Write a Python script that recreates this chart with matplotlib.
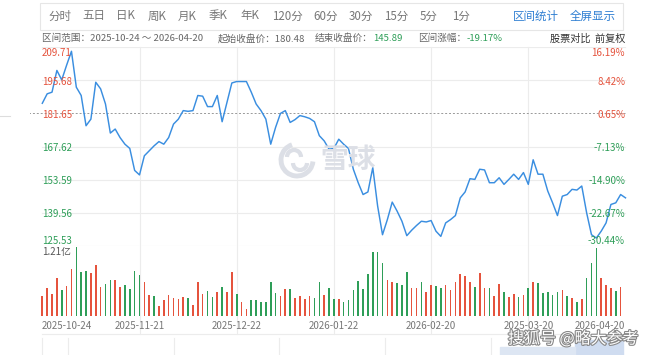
import matplotlib
matplotlib.use("Agg")
import matplotlib.pyplot as plt
import matplotlib.patheffects as pe
from matplotlib.patches import Rectangle, Arc

plt.rcParams['font.family'] = ['Noto Sans CJK SC', 'DejaVu Sans']

# ---------------- data ----------------
prices = [185.9, 189.9, 190.6, 199.8, 195.8, 202.0, 207.9, 192.7, 189.2, 176.4,
          179.2, 194.8, 192.0, 185.6, 173.3, 175.0, 171.4, 168.6, 166.8, 157.5,
          155.6, 163.7, 165.8, 167.9, 169.7, 168.6, 171.4, 177.1, 179.2, 182.8,
          182.5, 182.8, 189.2, 188.9, 184.5, 184.5, 189.2, 178.1, 186.3, 194.5,
          195.1, 195.1, 195.1, 190.6, 185.6, 182.8, 179.2, 168.6, 175.7, 181.6,
          182.8, 177.8, 179.0, 180.7, 180.2, 179.5, 178.1, 172.2, 170.0, 166.5,
          166.8, 170.7, 168.6, 166.8, 158.0, 152.3, 147.3, 148.4, 158.7, 142.4,
          130.3, 136.7, 144.1, 140.3, 136.0, 129.9, 132.2, 134.2, 136.0, 135.7,
          136.3, 131.8, 129.6, 135.3, 136.7, 138.4, 145.9, 148.4, 154.0, 153.7,
          158.0, 157.7, 152.3, 152.3, 154.4, 151.6, 153.7, 155.9, 153.7, 156.6,
          151.6, 162.0, 155.9, 155.9, 148.8, 143.8, 138.4, 146.6, 147.3, 149.5,
          149.2, 150.9, 139.6, 130.3, 128.9, 131.8, 135.3, 143.1, 143.8, 147.3,
          145.9]

volumes = [0.35, 0.48, 0.38, 0.67, 0.45, 0.53, 0.81, 1.21, 0.77, 0.79,
           0.75, 0.88, 0.51, 0.56, 0.63, 0.63, 0.51, 0.54, 0.47, 0.79,
           0.72, 0.59, 0.37, 0.35, 0.17, 0.28, 0.37, 0.32, 0.30, 0.33,
           0.32, 0.19, 0.60, 0.38, 0.44, 0.33, 0.42, 0.51, 0.41, 0.77,
           0.38, 0.25, 0.12, 0.27, 0.28, 0.24, 0.24, 0.60, 0.40, 0.35,
           0.47, 0.47, 0.31, 0.35, 0.29, 0.35, 0.31, 0.60, 0.37, 0.48,
           0.29, 0.30, 0.24, 0.27, 0.45, 0.61, 0.47, 0.73, 1.12, 1.12,
           0.93, 0.63, 0.59, 0.57, 0.54, 0.76, 0.49, 0.49, 0.60, 0.42,
           0.54, 0.52, 0.48, 0.54, 0.45, 0.60, 0.73, 0.69, 0.60, 0.51,
           0.74, 0.48, 0.48, 0.35, 0.56, 0.42, 0.33, 0.38, 0.33, 0.37,
           0.49, 0.59, 0.57, 0.40, 0.42, 0.37, 0.42, 0.45, 0.35, 0.32,
           0.25, 0.29, 0.66, 0.92, 1.18, 0.67, 0.54, 0.48, 0.44, 0.51]

bar_dirs = ("rrrrgrrggg" "rrrggrrggg" "grrgrrrrrr" "grrrggrgrr" "grrggggggr"
            "rgrrrrggrg" "grgggggggg" "grrgggrrgr" "rggrrrrrrg" "rrgrrgrrgr"
            "grgggggrgr" "grgggrrrgr")

price_ticks = [209.71, 195.68, 181.65, 167.62, 153.59, 139.56, 125.53]
pct_ticks = ["16.19%", "8.42%", "0.65%", "-7.13%", "-14.90%", "-22.67%", "-30.44%"]
date_idx = [0, 20, 40, 60, 80, 100, 120]
date_labels = ["2025-10-24", "2025-11-21", "2025-12-22", "2026-01-22",
               "2026-02-20", "2025-03-20", "2026-04-20"]
tabs = ["分时", "五日", "日K", "周K", "月K", "季K", "年K", "120分", "60分",
        "30分", "15分", "5分", "1分"]
tab_x = [48, 82, 116, 148, 178, 209, 240, 272, 313, 349, 384, 420, 452]
base_price = 181.65
vol_max = 1.21

RED = "#e5533d"
GREEN = "#2e9e58"
BLUE = "#3a8ee0"
GRID = "#ececec"
GRAY = "#666666"

W, H = 660, 355
fig = plt.figure(figsize=(6.6, 3.55), dpi=100)
fig.patch.set_facecolor("white")

def fx(p):
    return p / W

def fy(p):
    return 1 - p / H

n = len(prices)
X0, X1 = 42.3, 625.5  # pixel of first / last point
step = (X1 - X0) / (n - 1)
AX_L, AX_R = 30, 640
xl = ((AX_L - X0) / step, (AX_R - X0) / step)

# price axes
TOP, BOT = 47, 246
ax = fig.add_axes([fx(AX_L), fy(BOT), (AX_R - AX_L) / W, (BOT - TOP) / H])
ax.set_xlim(*xl)
ax.set_ylim(price_ticks[-1], price_ticks[0])
ax.axis("off")
xs = list(range(n))
x_left_i = (42 - X0) / step
x_right_i = (625 - X0) / step
for t in price_ticks:
    if abs(t - base_price) < 0.01:
        ax.plot([x_left_i - 6, x_right_i], [t, t], color="#999999", lw=0.7,
                ls=(0, (2, 2)), zorder=1)
    else:
        ax.plot([x_left_i, x_right_i], [t, t], color=GRID, lw=0.8, zorder=0)
ax.plot(xs, prices, color=BLUE, lw=1.05, zorder=3, solid_joinstyle="round")

# volume axes
VTOP, VBOT = 246.5, 316
vax = fig.add_axes([fx(AX_L), fy(VBOT), (AX_R - AX_L) / W, (VBOT - VTOP) / H])
vax.set_xlim(*xl)
vax.set_ylim(0, vol_max)
vax.axis("off")
cols = [RED if c == "r" else GREEN for c in bar_dirs]
vax.bar(range(len(volumes)), volumes, width=0.33, color=cols, zorder=2)

# vertical grid lines (figure level)
for i in date_idx[1:-1]:
    px = X0 + i * step
    fig.add_artist(plt.Line2D([fx(px), fx(px)], [fy(47), fy(334)], color=GRID,
                              lw=0.8, zorder=0))
fig.add_artist(plt.Line2D([fx(42), fx(625)], [fy(334), fy(334)], color=GRID, lw=0.8))
fig.add_artist(plt.Line2D([fx(0), fx(10)], [fy(116), fy(116)], color="#dddddd", lw=0.8))

# price labels (left) and pct labels (right)
for k, (t, p) in enumerate(zip(price_ticks, pct_ticks)):
    py = TOP + (price_ticks[0] - t) / (price_ticks[0] - price_ticks[-1]) * (BOT - TOP)
    col = RED if t >= base_price - 0.01 else GREEN
    va = "center"
    if k == 0:
        va = "top"
        py += 1
    elif k == len(price_ticks) - 1:
        va = "bottom"
    else:
        py += 1.5
    fig.text(fx(42), fy(py), f"{t:.2f}", color=col, fontsize=7, ha="left", va=va)
    fig.text(fx(625), fy(py), p, color=col, fontsize=7, ha="right", va=va)

fig.text(fx(42), fy(252), f"{vol_max:.2f}亿", color="#555555", fontsize=7,
         ha="left", va="center")

# date labels
for i, lab in zip(date_idx, date_labels):
    px = X0 + i * step
    ha = "center"
    if i == 0:
        ha = "left"
        px = 42
    elif i == date_idx[-1]:
        ha = "right"
        px = 625
    fig.text(fx(px), fy(326), lab, color="#777777", fontsize=7, ha=ha, va="center")

# toolbar
fig.add_artist(Rectangle((fx(40), fy(30)), (623 - 40) / W, 27 / H, fill=False,
                         ec="#e6e6e6", lw=0.8, transform=fig.transFigure))
for t, x in zip(tabs, tab_x):
    fig.text(fx(x), fy(16), t, color="#777777", fontsize=8.3, ha="left", va="center")
fig.text(fx(513), fy(16), "区间统计", color="#2f7fd2", fontsize=8.3, ha="left", va="center")
fig.text(fx(570), fy(16), "全屏显示", color="#2f7fd2", fontsize=8.3, ha="left", va="center")

# info row
iy = fy(38.5)
FS = 6.9
fig.text(fx(42), iy, "区间范围：2025-10-24 ～ 2026-04-20", color=GRAY, fontsize=FS,
         ha="left", va="center")
fig.text(fx(218), iy, "起始收盘价：180.48", color=GRAY, fontsize=FS, ha="left", va="center")
fig.text(fx(315), iy, "结束收盘价：", color=GRAY, fontsize=FS, ha="left", va="center")
fig.text(fx(373), iy, "145.89", color=GREEN, fontsize=FS, ha="left", va="center")
fig.text(fx(418), iy, "区间涨幅：", color=GRAY, fontsize=FS, ha="left", va="center")
fig.text(fx(467), iy, "-19.17%", color=GREEN, fontsize=FS, ha="left", va="center")
fig.text(fx(625), iy, "股票对比  前复权", color="#333333", fontsize=7.3, ha="right",
         va="center")

# 雪球 watermark logo
LC = "#dcdfe6"
cx, cy, r = 297, 160, 16
fig.add_artist(Arc((fx(cx), fy(cy)), 2 * r / W, 2 * r / H, theta1=100, theta2=350,
                   transform=fig.transFigure, ec=LC, lw=3.5, zorder=1))
fig.add_artist(Arc((fx(cx + 3), fy(cy + 3)), 2 * 7 / W, 2 * 7 / H, theta1=180,
                   theta2=360, transform=fig.transFigure, ec=LC, lw=3.0, zorder=1))
fig.add_artist(Arc((fx(cx - 3), fy(cy - 3)), 2 * 7 / W, 2 * 7 / H, theta1=0,
                   theta2=180, transform=fig.transFigure, ec=LC, lw=3.0, zorder=1))
fig.text(fx(320), fy(160), "雪球", color=LC, fontsize=20, ha="left",
         va="center", fontweight="bold")

# navigator strip
for px in [42, 68, 174, 279, 385, 491]:
    fig.add_artist(plt.Line2D([fx(px), fx(px)], [fy(338), fy(355)], color=GRID, lw=0.8))
fig.add_artist(Rectangle((fx(575), fy(355)), (623 - 575) / W, 15 / H,
                         color="#cfdcf0", transform=fig.transFigure, zorder=0))
fig.add_artist(Rectangle((fx(500), fy(355)), (575 - 500) / W, 8 / H,
                         color="#dde6f3", transform=fig.transFigure, zorder=0))

# bottom-right watermark
fig.text(fx(508), fy(339), "搜狐号 @略大参考", color="white", fontsize=11.5,
         ha="left", va="center",
         path_effects=[pe.withStroke(linewidth=1.6, foreground="#888888")])

fig.savefig("out.png", dpi=100, facecolor="white")
